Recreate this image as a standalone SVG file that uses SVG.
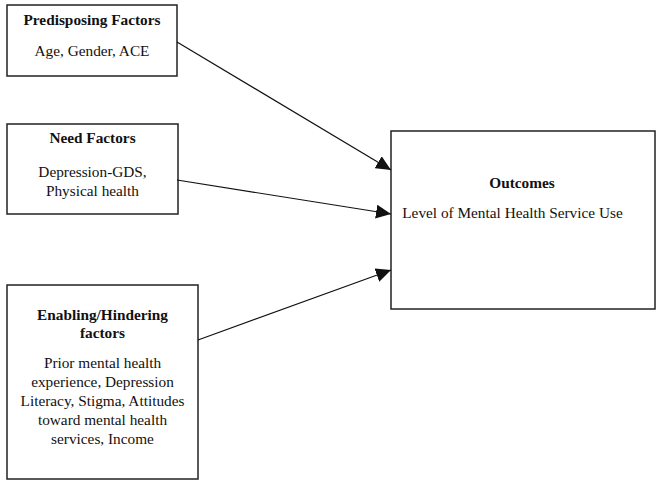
<svg xmlns="http://www.w3.org/2000/svg" width="663" height="488" viewBox="0 0 663 488">
<style>
.box{fill:#fff;stroke:#222;stroke-width:1.5}
.t{font-family:"Liberation Serif","Times New Roman",serif;font-size:15.3px;fill:#111;text-anchor:middle}
.b{font-weight:bold}
.edge{stroke:#111;stroke-width:1.2;fill:none;marker-end:url(#ah)}
</style>
<defs>
<marker id="ah" markerUnits="userSpaceOnUse" markerWidth="16" markerHeight="14" refX="15" refY="7" orient="auto">
<path d="M0,0 L15,7 L0,14 z" fill="#111"/>
</marker>
</defs>
<rect width="663" height="488" fill="#fff"/>
<g id="n1">
<rect class="box" x="7" y="5" width="170" height="71"/>
<text class="t b" x="92" y="25">Predisposing Factors</text>
<text class="t" x="92" y="56">Age, Gender, ACE</text>
</g>
<g id="n2">
<rect class="box" x="7" y="124" width="171" height="90"/>
<text class="t b" x="92.5" y="143">Need Factors</text>
<text class="t" x="92.5" y="177">Depression-GDS,</text>
<text class="t" x="92.5" y="196">Physical health</text>
</g>
<g id="n3">
<rect class="box" x="7" y="285" width="191" height="194"/>
<text class="t b" x="102.5" y="320">Enabling/Hindering</text>
<text class="t b" x="102.5" y="338">factors</text>
<text class="t" x="102.5" y="368">Prior mental health</text>
<text class="t" x="102.5" y="387">experience, Depression</text>
<text class="t" x="102.5" y="406">Literacy, Stigma, Attitudes</text>
<text class="t" x="102.5" y="425">toward mental health</text>
<text class="t" x="102.5" y="444">services, Income</text>
</g>
<g id="n4">
<rect class="box" x="391" y="131" width="264" height="178"/>
<text class="t b" x="522" y="188">Outcomes</text>
<text class="t" x="512.5" y="218">Level of Mental Health Service Use</text>
</g>
<g id="edges">
<line class="edge" x1="177" y1="42" x2="391" y2="170"/>
<line class="edge" x1="177" y1="180" x2="391" y2="214"/>
<line class="edge" x1="198" y1="340" x2="391" y2="270"/>
</g>
</svg>
